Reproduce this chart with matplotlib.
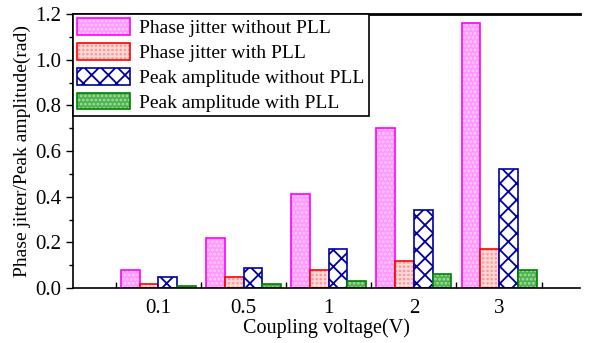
import numpy as np
import matplotlib
matplotlib.use("Agg")
from matplotlib import pyplot as plt
from matplotlib.patches import Patch

voltages = ["0.1", "0.5", "1", "2", "3"]
jitter_no_pll = [0.08, 0.22, 0.41, 0.70, 1.16]
jitter_pll = [0.02, 0.05, 0.08, 0.12, 0.17]
peak_no_pll = [0.05, 0.09, 0.17, 0.34, 0.52]
peak_pll = [0.01, 0.02, 0.03, 0.06, 0.08]

labels = [
    "Phase jitter without PLL",
    "Phase jitter with PLL",
    "Peak amplitude without PLL",
    "Peak amplitude with PLL",
]
# (face, hatch colour, hatch, edge)
styles = [
    ("#FF99FF", "#FFD0FF", "....", "#FF00FF"),
    ("#FF9A9A", "#FFD8D8", "++++", "#FF0000"),
    ("white", "#0000A0", "xx", "#0000A0"),
    ("#4DB34D", "#A8DCA8", "....", "#008000"),
]

plt.rcParams["font.family"] = ["Liberation Serif", "DejaVu Serif"]
plt.rcParams["hatch.linewidth"] = 1.3

fig = plt.figure(figsize=(5.9, 3.43), dpi=100)
ax = fig.add_axes([0.124, 0.160, 0.859, 0.799])

x = np.arange(len(voltages))
w = 0.22
handles = []
for k, (vals, (fc, hc, hatch, ec)) in enumerate(
    zip([jitter_no_pll, jitter_pll, peak_no_pll, peak_pll], styles)
):
    pos = x + (k - 1.5) * w
    ax.bar(pos, vals, w, color=fc, edgecolor=hc, hatch=hatch, linewidth=0)
    ax.bar(pos, vals, w, fill=False, edgecolor=ec, linewidth=1.2)
    h1 = Patch(facecolor=fc, edgecolor=hc, hatch=hatch, linewidth=0)
    h2 = Patch(fill=False, edgecolor=ec, linewidth=1.2)
    handles.append((h1, h2))

ax.set_xlim(-1.0, 4.95)
ax.set_ylim(0, 1.2)
ax.set_xticks(x)
ax.set_xticklabels(voltages)
ax.tick_params(axis="x", length=0, labelsize=15, pad=8)
ax.set_xticks(np.arange(-0.5, 5.0, 1.0), minor=True)
ax.tick_params(axis="x", which="minor", direction="in", length=4, width=1)
ax.set_yticks(np.arange(0, 1.21, 0.2))
ax.set_yticks(np.arange(0.1, 1.2, 0.2), minor=True)
ax.yaxis.set_major_formatter(matplotlib.ticker.FormatStrFormatter("%.1f"))
ax.tick_params(axis="y", which="major", direction="out", length=5, width=1, labelsize=15)
ax.tick_params(axis="y", which="minor", direction="out", length=3, width=1)
ax.spines["right"].set_visible(False)
for s in ["left", "bottom"]:
    ax.spines[s].set_linewidth(1.2)
ax.spines["top"].set_linewidth(2)

ax.set_xlabel("Coupling voltage(V)", fontsize=14.5, labelpad=0)
ax.set_ylabel("Phase jitter/Peak amplitude(rad)", fontsize=14, labelpad=3)

leg = ax.legend(
    handles, labels, loc="upper left", borderaxespad=0, fontsize=14,
    fancybox=False, edgecolor="black", framealpha=1, handlelength=2.7,
    handleheight=0.95, labelspacing=0.3, handletextpad=0.5, borderpad=0.2,
)
leg.get_frame().set_linewidth(1.2)

fig.savefig("out.png", dpi=100)
